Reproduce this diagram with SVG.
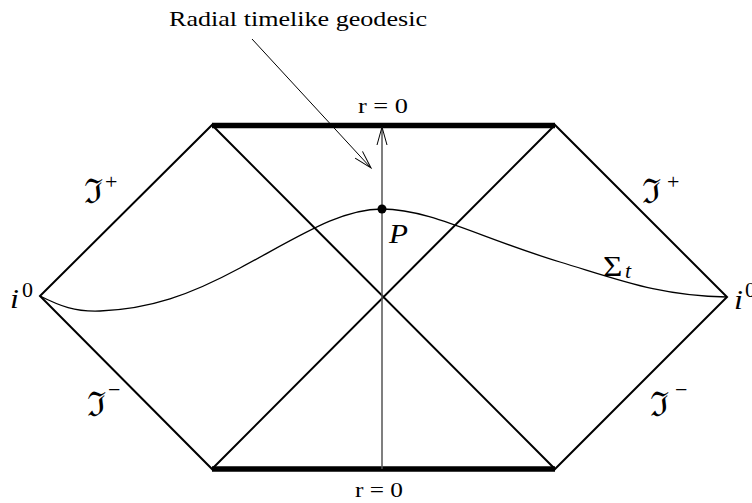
<svg xmlns="http://www.w3.org/2000/svg" width="752" height="503" viewBox="0 0 752 503">
<style>
  .txt { font-family: "Liberation Serif", "Times New Roman", serif; fill: #000; }
  .it { font-style: italic; }
  .frak { font-family: "DejaVu Serif", "Liberation Serif", serif; fill: #000; }
  .edge { stroke: #000; stroke-width: 2; fill: none; stroke-linecap: round; }
  .bar { stroke: #000; stroke-width: 5.5; fill: none; }
</style>
<defs>
  <marker id="open" viewBox="-22 -8 24 16" markerWidth="24" markerHeight="16" refX="0" refY="0" orient="auto" markerUnits="userSpaceOnUse">
    <path d="M-18,-5 L0,0 L-18,5" fill="none" stroke="#000" stroke-width="1"/>
  </marker>
</defs>
<rect width="752" height="503" fill="#fff"/>
<g id="diagram">
  <g id="singularities">
    <line class="bar" x1="212" y1="125.5" x2="555" y2="125.5"/>
    <line class="bar" x1="212" y1="469" x2="555" y2="469"/>
  </g>
  <g id="boundaries">
    <path class="edge" d="M40,296 L212,125 L555,469 L727,297 L555,125 L212,469 Z"/>
  </g>
  <g id="connectors">
    <line x1="382" y1="469" x2="382" y2="127" stroke="#555" stroke-width="1.5" marker-end="url(#open)"/>
    <line x1="252" y1="39" x2="371" y2="168" stroke="#000" stroke-width="1" marker-end="url(#open)"/>
    <path id="sigma-curve" d="M40,296 C60,306 75,312 100,311 C150,309 190,295 240,268 C300,236 340,209 382,209 C430,209 480,238 560,262 C620,280 660,296 727,297" fill="none" stroke="#000" stroke-width="1.3"/>
  </g>
  <g id="point-P">
    <circle cx="382" cy="209" r="4.5" fill="#000"/>
  </g>
  <g id="labels">
    <text class="txt" x="169" y="26" font-size="22" textLength="258" lengthAdjust="spacingAndGlyphs">Radial timelike geodesic</text>
    <text class="txt" x="358" y="113" font-size="22" textLength="50" lengthAdjust="spacingAndGlyphs">r = 0</text>
    <text class="txt" x="355" y="497" font-size="21" textLength="48" lengthAdjust="spacingAndGlyphs">r = 0</text>
    <text class="txt it" transform="translate(389,243) scale(1.15,1)" font-size="27">P</text>
    <text class="txt" transform="translate(603,276) scale(1.15,1)" font-size="29">Σ</text>
    <text class="txt it" transform="translate(625,278) scale(1.1,1)" font-size="20">t</text>
    <text class="txt it" transform="translate(10,308) scale(1.15,1)" font-size="28">i</text>
    <text class="txt" transform="translate(22,297) scale(1.1,1)" font-size="20">0</text>
    <text class="txt it" transform="translate(734,309) scale(1.15,1)" font-size="28">i</text>
    <text class="txt" transform="translate(745,297) scale(1.1,1)" font-size="20">0</text>
    <text class="frak" x="84" y="203" font-size="34">ℑ</text>
    <text class="txt" x="105" y="189" font-size="22">+</text>
    <text class="frak" x="642" y="203" font-size="34">ℑ</text>
    <text class="txt" x="667" y="189" font-size="22">+</text>
    <text class="frak" x="87" y="416" font-size="34">ℑ</text>
    <text class="txt" x="108" y="397" font-size="22">−</text>
    <text class="frak" x="650" y="416" font-size="34">ℑ</text>
    <text class="txt" x="675" y="397" font-size="22">−</text>
  </g>
</g>
</svg>
